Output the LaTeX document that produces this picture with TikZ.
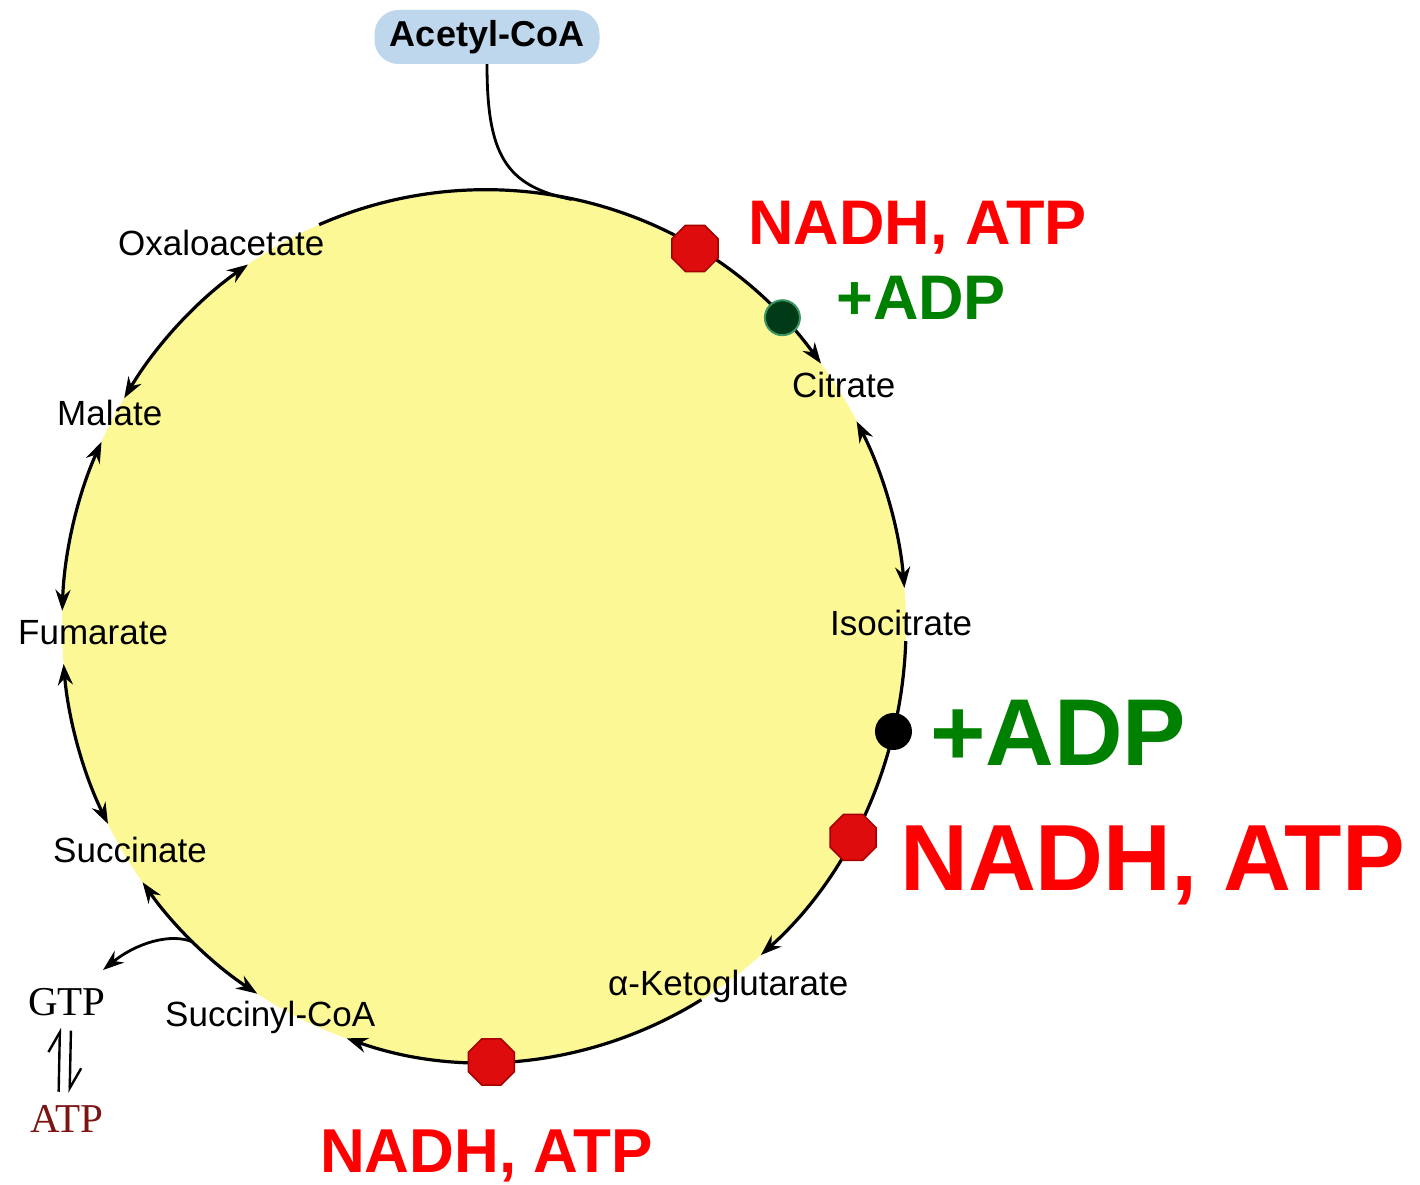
\documentclass[tikz,border=0pt]{standalone}
\usepackage{fontspec}
\setmainfont{Liberation Sans}
\newfontfamily\seriffam{Liberation Serif}
\usetikzlibrary{arrows.meta,shapes.geometric,calc}
\definecolor{cycyellow}{RGB}{252,248,150}
\definecolor{boxblue}{RGB}{190,215,236}
\definecolor{octred}{RGB}{222,12,12}
\definecolor{octedge}{RGB}{165,0,0}
\definecolor{dgreen}{RGB}{0,58,22}
\definecolor{dgedge}{RGB}{60,150,100}
\definecolor{lblgreen}{RGB}{0,128,0}
\definecolor{atpred}{RGB}{125,20,20}
\begin{document}
\begin{tikzpicture}[x=1pt,y=1pt,
  cycline/.style={line width=3.2pt,draw=black},
  tipa/.style={-{Stealth[length=21pt,width=15pt]}},
  tipb/.style={{Stealth[length=21pt,width=15pt]}-{Stealth[length=21pt,width=15pt]}},
  lbl/.style={anchor=base west,inner sep=0pt,font=\fontsize{35}{40}\selectfont},
  big/.style={anchor=base west,inner sep=0pt,text=red,font=\bfseries\fontsize{#1}{#1}\selectfont},
  bigg/.style={anchor=base west,inner sep=0pt,text=lblgreen,font=\bfseries\fontsize{#1}{#1}\selectfont},
  octa/.style={regular polygon,regular polygon sides=8,minimum size=50pt,inner sep=0pt,fill=octred,draw=octedge,line width=1.5pt},
  dot/.style={circle,minimum size=35pt,inner sep=0pt,line width=2pt}
]
\useasboundingbox (0,0) rectangle (1420,1184);
\coordinate (C) at (484,558);
% yellow disc
\fill[cycyellow] (C) ellipse [x radius=422pt, y radius=436pt];
% named points on the cycle
\foreach \n/\a in {pOA/113, pCitB/28, pIsoB/-2, pAkgB/-59,
                   pSuc/216, pFumB/185, pMalB/155, pOAB/124,
                   pGTP/226.5, pAc/78, pO1/60, pD1/45, pD2/-14, pO2/-29, pO3/-89}
  {\coordinate (\n) at ($(C)+(\a:422pt and 436pt)$);}
% Acetyl-CoA
\node[fill=boxblue,rounded corners=24pt,minimum width=225pt,minimum height=54pt,inner sep=0pt,
      font=\bfseries\fontsize{36}{36}\selectfont] (acetyl) at (487,1147) {Acetyl-CoA};
\draw[line width=2.8pt] (acetyl.south) .. controls (487,1030) and (505,998) .. (pAc);
% cycle arcs
\draw[cycline,tipa] (pOA) arc[start angle=113,end angle=37,x radius=422pt,y radius=436pt];
\draw[cycline,tipb] (pCitB) arc[start angle=28,end angle=5,x radius=422pt,y radius=436pt];
\draw[cycline,tipa] (pIsoB) arc[start angle=-2,end angle=-49,x radius=422pt,y radius=436pt];
\draw[cycline,tipa] (pAkgB) arc[start angle=-59,end angle=-109,x radius=422pt,y radius=436pt];
\draw[cycline,tipb] (pSuc) arc[start angle=216,end angle=237.5,x radius=422pt,y radius=436pt];
\draw[cycline,tipb] (pFumB) arc[start angle=185,end angle=207,x radius=422pt,y radius=436pt];
\draw[cycline,tipb] (pMalB) arc[start angle=155,end angle=178,x radius=422pt,y radius=436pt];
\draw[cycline,tipb] (pOAB) arc[start angle=124,end angle=148.5,x radius=422pt,y radius=436pt];
% GTP branch
\coordinate (gtpend) at (103,214);
\draw[line width=2.8pt,tipa] (pGTP) .. controls (170,252) and (135,240) .. (gtpend);
% markers
\node[octa] (o1) at (pO1) {};
\node[octa] (o2) at (pO2) {};
\node[octa] (o3) at (pO3) {};
\node[dot,fill=dgreen,draw=dgedge] (d1) at (pD1) {};
\node[dot,fill=black,draw=black] (d2) at (pD2) {};
% metabolite labels
\node[lbl] (oaa) at (118,928) {Oxaloacetate};
\node[lbl] (cit) at (792,786) {Citrate};
\node[lbl] (iso) at (830,548) {Isocitrate};
\node[lbl] (mal) at (57,758) {Malate};
\node[lbl] (fum) at (18,539) {Fumarate};
\node[lbl] (suc) at (53,322) {Succinate};
\node[lbl] (scoa) at (165,158) {Succinyl-CoA};
\node[lbl] (akg) at (608,189) {α-Ketoglutarate};
% GTP / ATP
\node[anchor=base west,inner sep=0pt,font=\seriffam\fontsize{41}{41}\selectfont] (gtp) at (28,169) {GTP};
\node[anchor=base west,inner sep=0pt,text=atpred,font=\seriffam\fontsize{41}{41}\selectfont] (atp) at (30,52) {ATP};
\draw[line width=2.4pt,-{Straight Barb[harpoon,length=20pt,width=22pt]}] ([xshift=-8pt,yshift=13pt]atp.north) -- ([xshift=-7pt,yshift=-12pt]gtp.south);
\draw[line width=2.4pt,-{Straight Barb[harpoon,length=20pt,width=22pt]}] ([xshift=4pt,yshift=-15pt]gtp.south) -- ([xshift=3pt,yshift=12pt]atp.north);
% regulation labels
\node[big=63] (n1) at (748,939) {NADH, ATP};
\node[bigg=63] (a1) at (836,864) {+ADP};
\node[bigg=95] (a2) at (930,419) {+ADP};
\node[big=94] (n2) at (900,294) {NADH, ATP};
\node[big=62] (n3) at (320,12) {NADH, ATP};
\end{tikzpicture}
\end{document}
